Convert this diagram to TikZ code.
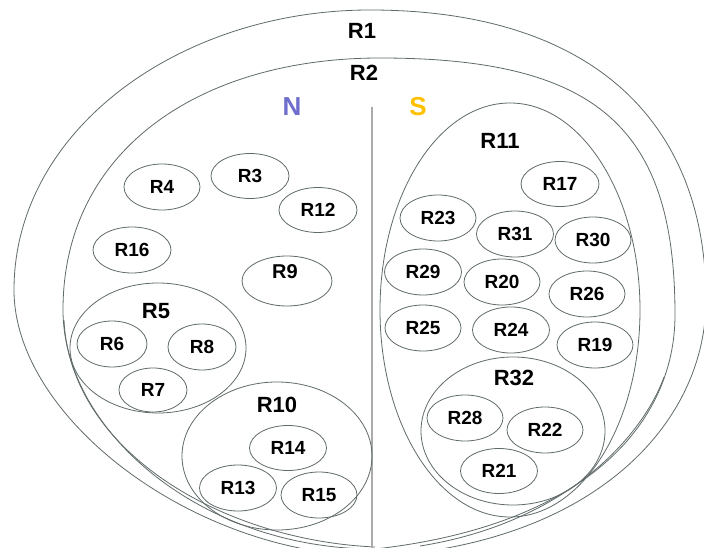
\documentclass[tikz,border=0pt]{standalone}
\usepackage{fontspec}
\setmainfont{Liberation Sans}
\usetikzlibrary{shapes.geometric}
\definecolor{edgegray}{RGB}{96,106,106}
\definecolor{dividergray}{RGB}{170,170,170}
\definecolor{ncol}{RGB}{110,110,205}
\definecolor{scol}{RGB}{255,192,0}
\begin{document}
\begin{tikzpicture}[x=1pt,y=-1pt,
  outline/.style={draw=edgegray, line width=0.8pt},
  region/.style={ellipse, outline, inner sep=0pt, font=\fontsize{19}{19}\selectfont\bfseries},
  container/.style={ellipse, outline, inner sep=0pt},
  biglab/.style={inner sep=0pt, font=\fontsize{22}{22}\selectfont\bfseries},
  sidelab/.style={inner sep=0pt, font=\fontsize{26}{26}\selectfont\bfseries}
]
\useasboundingbox (0,0) rectangle (704,548);
\fill[white] (0,0) rectangle (704,548);
\begin{scope}
\clip (0,0) rectangle (704,548);
% R1 outer egg
\draw[outline] (370,10) .. controls (590,10) and (706,120) .. (706,300)
  .. controls (706,420) and (600,540) .. (385,556)
  .. controls (200,560) and (14,420) .. (14,290)
  .. controls (14,130) and (180,10) .. (370,10) -- cycle;
% R2 egg
\draw[outline] (380,58) .. controls (600,58) and (675,130) .. (675,315)
  .. controls (675,420) and (590,525) .. (375,549)
  .. controls (200,549) and (63,430) .. (63,310)
  .. controls (63,150) and (200,58) .. (380,58) -- cycle;
% inner duplicate strokes near the bottom of R2
\draw[outline] (64,320) .. controls (70,450) and (220,540) .. (375,547);
\draw[outline] (664,377) .. controls (644,433) and (570,522) .. (420,546);
\end{scope}
% divider
\coordinate (vtop) at (372,107);
\coordinate (vbot) at (372,548);
\draw[dividergray, line width=1.6pt] (vtop) -- (vbot);
% labels
\node[biglab] (l1) at (362,31) {R1};
\node[biglab] (l2) at (364,73) {R2};
\node[sidelab, text=ncol] (ln) at (292,107) {N};
\node[sidelab, text=scol] (ls) at (418,107) {S};
% N side
\node[region, minimum width=76, minimum height=46] (r4) at (162,187) {R4};
\node[region, minimum width=78, minimum height=45] (r3) at (250,176) {R3};
\node[region, minimum width=78, minimum height=45] (r12) at (318,210) {R12};
\node[region, minimum width=78, minimum height=46] (r16) at (132,250) {R16};
\node[container, minimum width=90, minimum height=50] (r9) at (287,281) {};
\node[biglab, font=\fontsize{20}{20}\selectfont\bfseries] (l9) at (285,272) {R9};
% R5 group
\node[container, minimum width=176, minimum height=130] (r5) at (158,348) {};
\node[biglab] (l5) at (156,311) {R5};
\node[region, minimum width=70, minimum height=46] (r6) at (112,344) {R6};
\node[region, minimum width=68, minimum height=46] (r8) at (202,347) {R8};
\node[region, minimum width=68, minimum height=44] (r7) at (153,390) {R7};
% R10 group
\node[container, minimum width=190, minimum height=148] (r10) at (277,456) {};
\node[biglab] (l10) at (277,405) {R10};
\node[region, minimum width=77, minimum height=45] (r14) at (288,448) {R14};
\node[region, minimum width=77, minimum height=46] (r13) at (238,488) {R13};
\node[region, minimum width=76, minimum height=46] (r15) at (319,495) {R15};
% S side: R11
\node[container, minimum width=260, minimum height=414] (r11) at (510,310) {};
\node[biglab] (l11) at (500,141) {R11};
\node[region, minimum width=78, minimum height=45] (r17) at (560,184) {R17};
\node[region, minimum width=76, minimum height=46] (r23) at (438,218) {R23};
\node[region, minimum width=77, minimum height=46] (r31) at (515,234) {R31};
\node[region, minimum width=76, minimum height=46] (r30) at (593,240) {R30};
\node[region, minimum width=77, minimum height=46] (r29) at (423,272) {R29};
\node[region, minimum width=76, minimum height=46] (r20) at (502,282) {R20};
\node[region, minimum width=76, minimum height=46] (r26) at (587,294) {R26};
\node[region, minimum width=76, minimum height=46] (r25) at (423,328) {R25};
\node[region, minimum width=77, minimum height=46] (r24) at (511,330) {R24};
\node[region, minimum width=76, minimum height=46] (r19) at (595,345) {R19};
% R32 group
\node[container, minimum width=184, minimum height=148] (r32) at (513,431) {};
\node[biglab] (l32) at (514,378) {R32};
\node[region, minimum width=76, minimum height=46] (r28) at (465,418) {R28};
\node[region, minimum width=76, minimum height=46] (r22) at (545,430) {R22};
\node[region, minimum width=77, minimum height=45] (r21) at (499,471) {R21};
\end{tikzpicture}
\end{document}
